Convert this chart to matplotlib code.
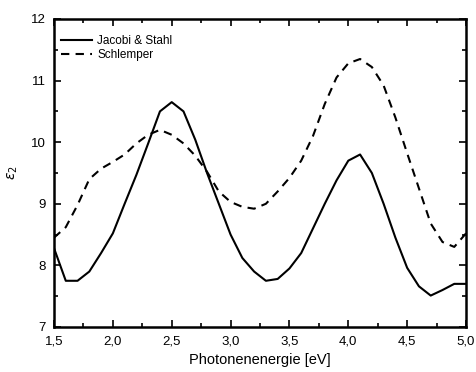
import matplotlib.pyplot as plt
from matplotlib.ticker import MultipleLocator, FuncFormatter

plt.rcParams['font.family'] = ['Liberation Sans', 'DejaVu Sans']

energie = [1.5, 1.6, 1.7, 1.8, 1.9, 2.0, 2.1, 2.2, 2.3, 2.4, 2.5, 2.6, 2.7, 2.8,
           2.9, 3.0, 3.1, 3.2, 3.3, 3.4, 3.5, 3.6, 3.7, 3.8, 3.9, 4.0, 4.1, 4.2,
           4.3, 4.4, 4.5, 4.6, 4.7, 4.8, 4.9, 5.0]

jacobi_stahl = [8.28, 7.75, 7.75, 7.9, 8.2, 8.52, 9.0, 9.47, 9.98, 10.5, 10.65,
                10.5, 10.04, 9.5, 9.0, 8.5, 8.12, 7.9, 7.75, 7.78, 7.95, 8.2,
                8.6, 9.0, 9.38, 9.7, 9.8, 9.5, 9.0, 8.45, 7.96, 7.66, 7.51,
                7.6, 7.7, 7.7]

schlemper = [8.45, 8.62, 8.98, 9.4, 9.57, 9.68, 9.8, 9.98, 10.12, 10.2, 10.12,
             9.98, 9.78, 9.52, 9.2, 9.03, 8.95, 8.92, 9.0, 9.2, 9.42, 9.7,
             10.1, 10.62, 11.05, 11.28, 11.35, 11.22, 10.92, 10.4, 9.82, 9.25,
             8.68, 8.38, 8.3, 8.52]

fig = plt.figure(figsize=(4.77, 3.72), dpi=100)
ax = fig.add_axes([0.1132, 0.121, 0.8638, 0.828])

ax.plot(energie, jacobi_stahl, color='black', lw=1.5, label='Jacobi & Stahl')
ax.plot(energie, schlemper, color='black', lw=1.5, ls=(0, (4, 3)), label='Schlemper')

ax.set_xlim(1.5, 5.0)
ax.set_ylim(7, 12)
ax.xaxis.set_major_locator(MultipleLocator(0.5))
ax.xaxis.set_minor_locator(MultipleLocator(0.25))
ax.yaxis.set_major_locator(MultipleLocator(1))
ax.yaxis.set_minor_locator(MultipleLocator(0.5))
ax.xaxis.set_major_formatter(FuncFormatter(lambda v, p: f"{v:.1f}".replace('.', ',')))
ax.yaxis.set_major_formatter(FuncFormatter(lambda v, p: f"{v:.0f}"))

ax.tick_params(which='both', direction='in', top=True, right=True,
               labelsize=9.5, width=1.2)
ax.tick_params(which='major', length=5, pad=6)
ax.tick_params(which='minor', length=3)
for s in ax.spines.values():
    s.set_linewidth(1.8)

ax.set_xlabel('Photonenenergie [eV]', fontsize=10.5, labelpad=4)
ax.set_ylabel(r'$\epsilon_2$', fontsize=10, labelpad=8)

ax.legend(loc='upper left', bbox_to_anchor=(0.006, 0.962), frameon=False,
          fontsize=8.5, handlelength=2.6, handletextpad=0.45,
          labelspacing=0.15, borderaxespad=0)

fig.savefig('out.png', dpi=100)
